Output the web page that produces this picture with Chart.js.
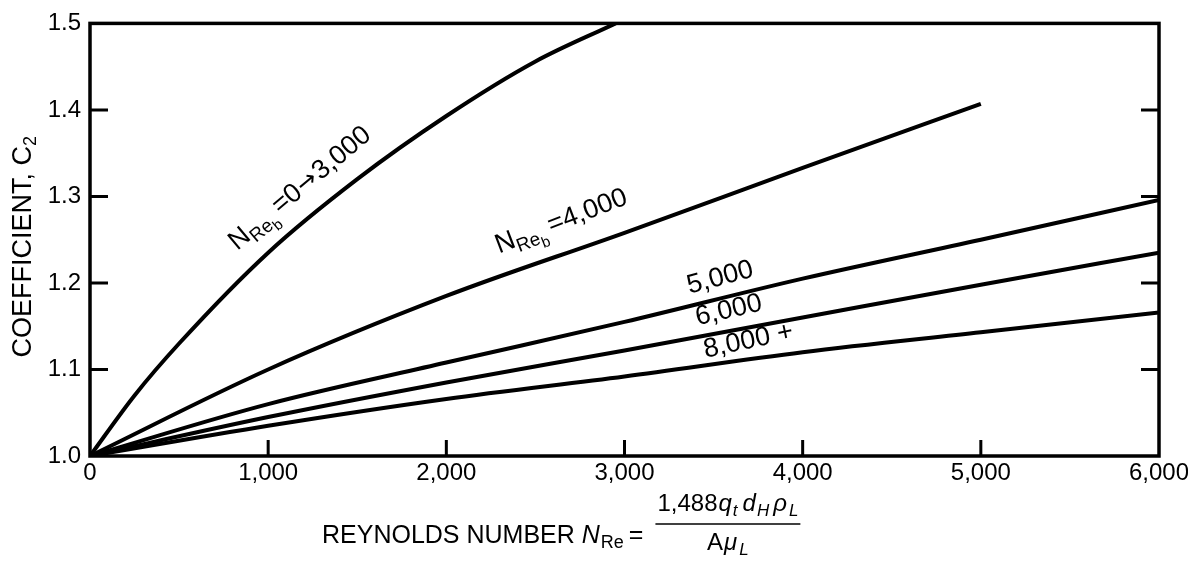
<!DOCTYPE html>
<html>
<head>
<meta charset="utf-8">
<script src="https://cdn.jsdelivr.net/npm/chart.js@4"></script>
<style>
  html, body { margin: 0; padding: 0; background: #fff; }
</style>
</head>
<body>
<canvas id="c2Chart" width="1188" height="570"></canvas>
<script>
// Coefficient C2 against liquid Reynolds number, one curve per bubble Reynolds number
const reSteps = [0, 1000, 2000, 3000, 4000, 5000, 6000];
const reLaminar = [0, 250, 500, 1000, 1500, 2000, 2500, 2950];
const c2Laminar = [1.0, 1.07, 1.13, 1.235, 1.32, 1.393, 1.456, 1.5];
const c2Reb4000 = [1.0, 1.10, 1.185, 1.258, 1.333, 1.407];
const c2Reb5000 = [1.0, 1.06, 1.108, 1.155, 1.205, 1.25, 1.296];
const c2Reb6000 = [1.0, 1.045, 1.085, 1.122, 1.16, 1.198, 1.235];
const c2Reb8000 = [1.0, 1.035, 1.066, 1.092, 1.12, 1.143, 1.166];
const xTicks = [0, 1000, 2000, 3000, 4000, 5000, 6000];
const yTicks = [1.0, 1.1, 1.2, 1.3, 1.4, 1.5];

const FONT = "'Liberation Sans', Arial, sans-serif";
const ARROW_FONT = "'DejaVu Sans', sans-serif";
const f = (size, italic) => (italic ? 'italic ' : '') + size + 'px ' + FONT;

// curve captions: anchor is the baseline start, in data units
const nReb = [{ t: 'N', f: f(27) }, { t: 'Re', f: f(19), dy: 6 }, { t: 'b', f: f(15), dy: 11, gap: 4 }];
const curveLabels = [
    { at: [826, 1.237], angle: -40, parts: nReb.concat([
        { t: '=0', f: f(27), gap: 1 }, { t: '\u2192', f: '24px ' + ARROW_FONT, dy: -1, gap: 1 }, { t: '3,000', f: f(27) }]) },
    { at: [2295, 1.234], angle: -21, parts: nReb.concat([{ t: '=4,000', f: f(27) }]) },
    { at: [3365, 1.1875], angle: -15, parts: [{ t: '5,000', f: f(27) }] },
    { at: [3410, 1.151], angle: -13, parts: [{ t: '6,000', f: f(27) }] },
    { at: [3455, 1.1136], angle: -12, parts: [{ t: '8,000 +', f: f(27) }] }
];

function runWidth(ctx, parts) {
    let w = 0;
    parts.forEach(p => { ctx.font = p.f; w += ctx.measureText(p.t).width + (p.gap || 0); });
    return w;
}

function drawRun(ctx, parts, x0, y0) {
    let cx = x0;
    parts.forEach(p => {
        ctx.font = p.f;
        ctx.fillText(p.t, cx, y0 + (p.dy || 0));
        cx += ctx.measureText(p.t).width + (p.gap || 0);
    });
    return cx;
}

const frameAndText = {
    id: 'frameAndText',
    afterDatasetsDraw(chart) {
        const { ctx, chartArea: a, scales: { x, y } } = chart;
        ctx.save();
        ctx.strokeStyle = '#000';
        ctx.fillStyle = '#000';
        ctx.lineCap = 'butt';

        // box and inward tick marks
        ctx.lineWidth = 3.5;
        ctx.strokeRect(a.left, a.top, a.right - a.left, a.bottom - a.top);
        ctx.lineWidth = 3;
        ctx.beginPath();
        xTicks.slice(1, -1).forEach(v => {
            const px = x.getPixelForValue(v);
            ctx.moveTo(px, a.bottom);
            ctx.lineTo(px, a.bottom - 16);
        });
        yTicks.slice(1, -1).forEach(v => {
            const py = y.getPixelForValue(v);
            ctx.moveTo(a.left, py);
            ctx.lineTo(a.left + 18, py);
            ctx.moveTo(a.right, py);
            ctx.lineTo(a.right - 18, py);
        });
        ctx.stroke();

        // curve captions
        ctx.textAlign = 'left';
        ctx.textBaseline = 'alphabetic';
        curveLabels.forEach(l => {
            ctx.save();
            ctx.translate(x.getPixelForValue(l.at[0]), y.getPixelForValue(l.at[1]));
            ctx.rotate(l.angle * Math.PI / 180);
            drawRun(ctx, l.parts, 0, 0);
            ctx.restore();
        });

        // y axis title
        const yTitle = [{ t: 'COEFFICIENT, C', f: f(27) }, { t: '2', f: f(18), dy: 5 }];
        ctx.save();
        ctx.translate(31, (a.top + a.bottom) / 2 + 7);
        ctx.rotate(-Math.PI / 2);
        drawRun(ctx, yTitle, -runWidth(ctx, yTitle) / 2, 0);
        ctx.restore();

        // x axis title with the Reynolds number definition
        const lead = [
            { t: 'REYNOLDS NUMBER ', f: f(25) }, { t: 'N', f: f(25, true), gap: 1 },
            { t: 'Re', f: f(18), dy: 5, gap: 5 }, { t: '=', f: f(25) }
        ];
        const num = [
            { t: '1,488', f: f(24), gap: 1 }, { t: 'q', f: f(24, true), gap: 1 }, { t: 't', f: f(17, true), dy: 5, gap: 5 },
            { t: 'd', f: f(24, true), gap: 1 }, { t: 'H', f: f(17, true), dy: 5, gap: 4 },
            { t: '\u03c1', f: f(24, true), gap: 2 }, { t: 'L', f: f(17, true), dy: 5 }
        ];
        const den = [{ t: 'A', f: f(24), gap: 1 }, { t: '\u03bc', f: f(24, true), gap: 2 }, { t: 'L', f: f(17, true), dy: 5 }];
        let cx = drawRun(ctx, lead, 322, 543) + 12;
        const nw = runWidth(ctx, num), dw = runWidth(ctx, den);
        const fw = Math.max(nw, dw) + 4;
        drawRun(ctx, num, cx + (fw - nw) / 2, 511);
        drawRun(ctx, den, cx + (fw - dw) / 2, 550);
        ctx.lineWidth = 1.5;
        ctx.beginPath();
        ctx.moveTo(cx, 524);
        ctx.lineTo(cx + fw, 524);
        ctx.stroke();

        ctx.restore();
    }
};

const toPoints = (xs, ys) => ys.map((v, i) => ({ x: xs[i], y: v }));
const curve = (label, xs, ys) => ({
    label: label,
    data: toPoints(xs, ys),
    borderColor: '#000',
    borderWidth: 4,
    pointRadius: 0,
    fill: false,
    cubicInterpolationMode: 'monotone'
});

new Chart(document.getElementById('c2Chart'), {
    type: 'line',
    data: {
        datasets: [
            curve('0-3,000', reLaminar, c2Laminar),
            curve('4,000', reSteps, c2Reb4000),
            curve('5,000', reSteps, c2Reb5000),
            curve('6,000', reSteps, c2Reb6000),
            curve('8,000+', reSteps, c2Reb8000)
        ]
    },
    options: {
        responsive: false,
        animation: false,
        layout: { padding: { top: 16, right: 29, left: 0, bottom: 0 } },
        plugins: { legend: { display: false }, tooltip: { enabled: false } },
        scales: {
            x: {
                type: 'linear',
                min: 0,
                max: 6000,
                afterBuildTicks: s => { s.ticks = xTicks.map(v => ({ value: v })); },
                afterFit: s => { s.height = 114; s.paddingLeft = 0; s.paddingRight = 0; },
                grid: { display: false, drawTicks: false },
                border: { display: false },
                ticks: {
                    color: '#000',
                    padding: 3,
                    maxRotation: 0,
                    font: { family: FONT, size: 24 },
                    callback: v => v.toLocaleString('en-US')
                }
            },
            y: {
                min: 1.0,
                max: 1.5,
                afterBuildTicks: s => { s.ticks = yTicks.map(v => ({ value: v })); },
                afterFit: s => { s.width = 90; },
                grid: { display: false, drawTicks: false },
                border: { display: false },
                ticks: {
                    color: '#000',
                    padding: 9,
                    font: { family: FONT, size: 24 },
                    callback: v => v.toFixed(1)
                }
            }
        }
    },
    plugins: [frameAndText]
});
</script>
</body>
</html>
